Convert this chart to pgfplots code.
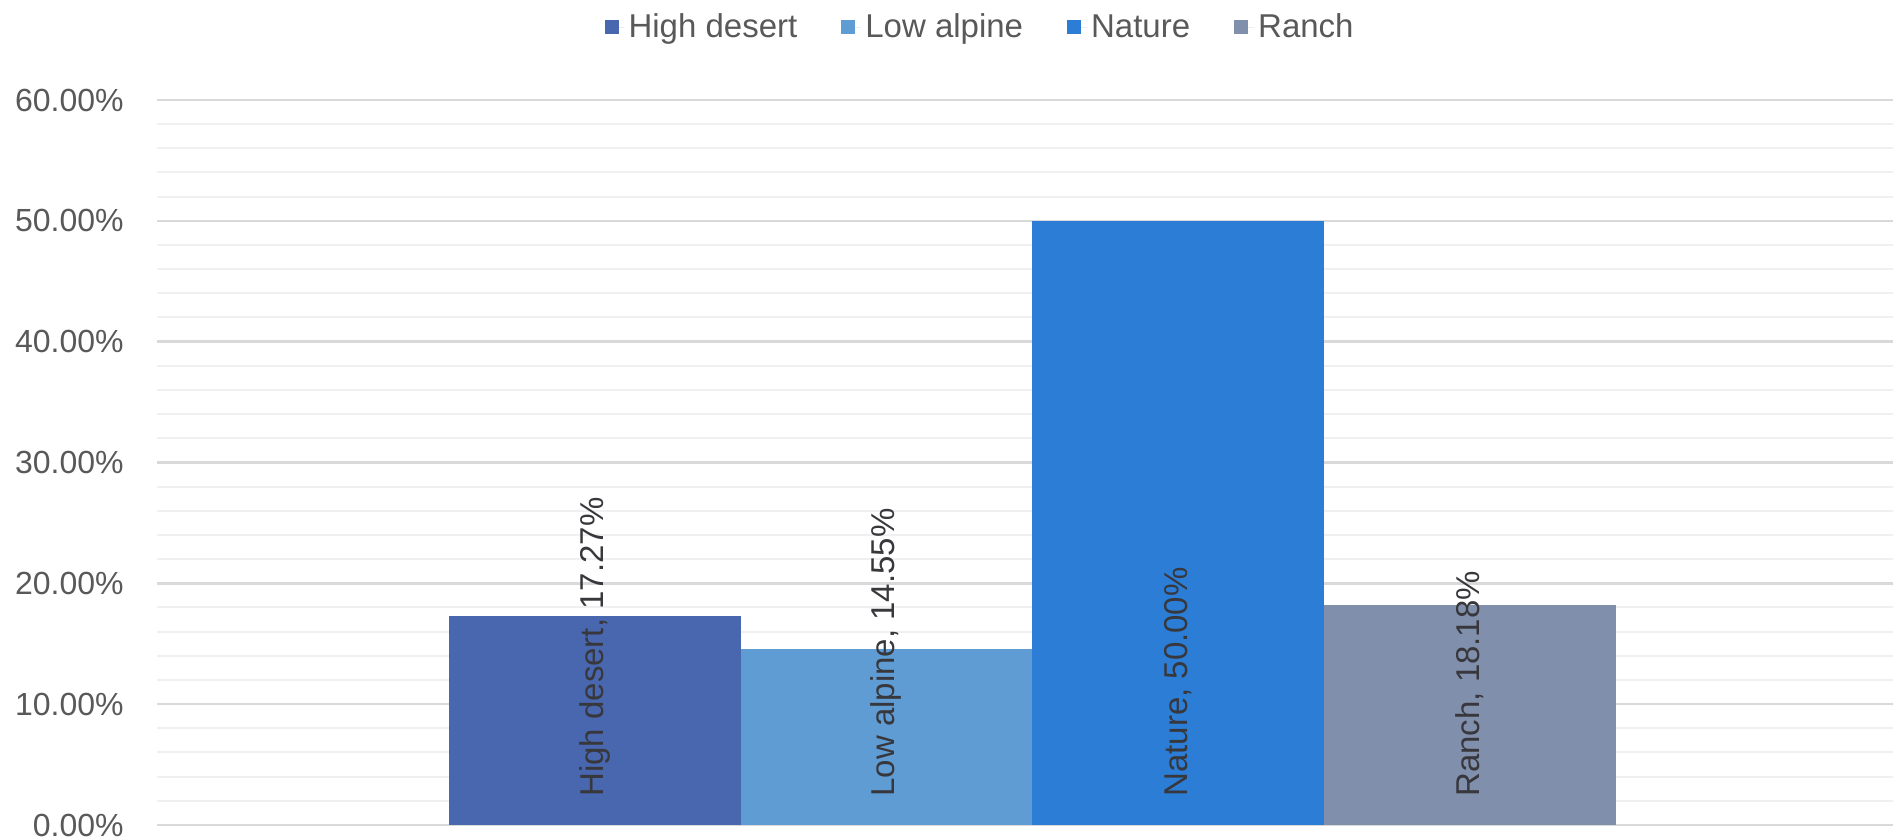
\documentclass[border=0pt]{standalone}
\usepackage{pgfplots}
\pgfplotsset{compat=1.18}
\usepackage{fontspec}
\setmainfont{Liberation Sans}

\definecolor{hdcol}{RGB}{72,103,174}
\definecolor{lacol}{RGB}{95,156,211}
\definecolor{nacol}{RGB}{43,125,213}
\definecolor{racol}{RGB}{128,143,171}
\definecolor{gridmaj}{RGB}{217,217,217}
\definecolor{gridmin}{RGB}{240,240,240}
\definecolor{txtgray}{RGB}{89,89,89}
\definecolor{lblcol}{RGB}{55,55,60}

\begin{document}
\begin{tikzpicture}
  \begin{axis}[
      scale only axis,
      width=868pt, height=362.5pt,
      xmin=-3, xmax=2.95,
      ymin=0, ymax=60,
      axis line style={draw=none},
      tick style={draw=none},
      xtick=\empty,
      ytick={0,10,...,60},
      minor y tick num=4,
      ymajorgrids, yminorgrids,
      major grid style={color=gridmaj, line width=1.2pt},
      minor grid style={color=gridmin, line width=1pt},
      /pgf/number format/assume math mode=true,
      yticklabel={\pgfmathprintnumber[fixed,fixed zerofill,precision=2]{\tick}\%},
      yticklabel style={font=\fontsize{16}{19}\selectfont, text=txtgray, anchor=east, inner sep=0pt, xshift=-16.5pt},
      clip=false,
      legend columns=-1,
      legend style={draw=none, at={(0.4747,1.100)}, anchor=center,
        font=\fontsize{16.5}{19}\selectfont, text=txtgray,
        /tikz/every even column/.append style={column sep=20pt}},
      legend image code/.code={%
        \fill[#1] (0pt,-3.5pt) rectangle (7pt,3.5pt);
        \path (0pt,0pt) -- (10pt,0pt);},
      mybar/.style={ybar, bar width=1, bar shift=0pt, draw=none, fill=#1},
    ]
    \addplot[mybar=hdcol] coordinates {(-1.5,17.27)};
    \addplot[mybar=lacol] coordinates {(-0.5,14.55)};
    \addplot[mybar=nacol] coordinates {(0.5,50.00)};
    \addplot[mybar=racol] coordinates {(1.5,18.18)};
    \legend{High desert, Low alpine, Nature, Ranch}

    % data labels start just above the baseline
    \addplot[forget plot, only marks, mark=none,
      point meta=explicit symbolic,
      nodes near coords,
      every node near coord/.style={rotate=90, anchor=west,
        inner xsep=14pt, inner ysep=0pt, text=lblcol,
        font=\fontsize{16.5}{19}\selectfont}]
      coordinates {
        (-1.5,0) [High desert, 17.27\%]
        (-0.5,0) [Low alpine, 14.55\%]
        (0.5,0) [Nature, 50.00\%]
        (1.5,0) [Ranch, 18.18\%]
      };
  \end{axis}
  \pgfresetboundingbox
  \path (-78.5pt,-7pt) rectangle (868pt,412.5pt);
\end{tikzpicture}
\end{document}
